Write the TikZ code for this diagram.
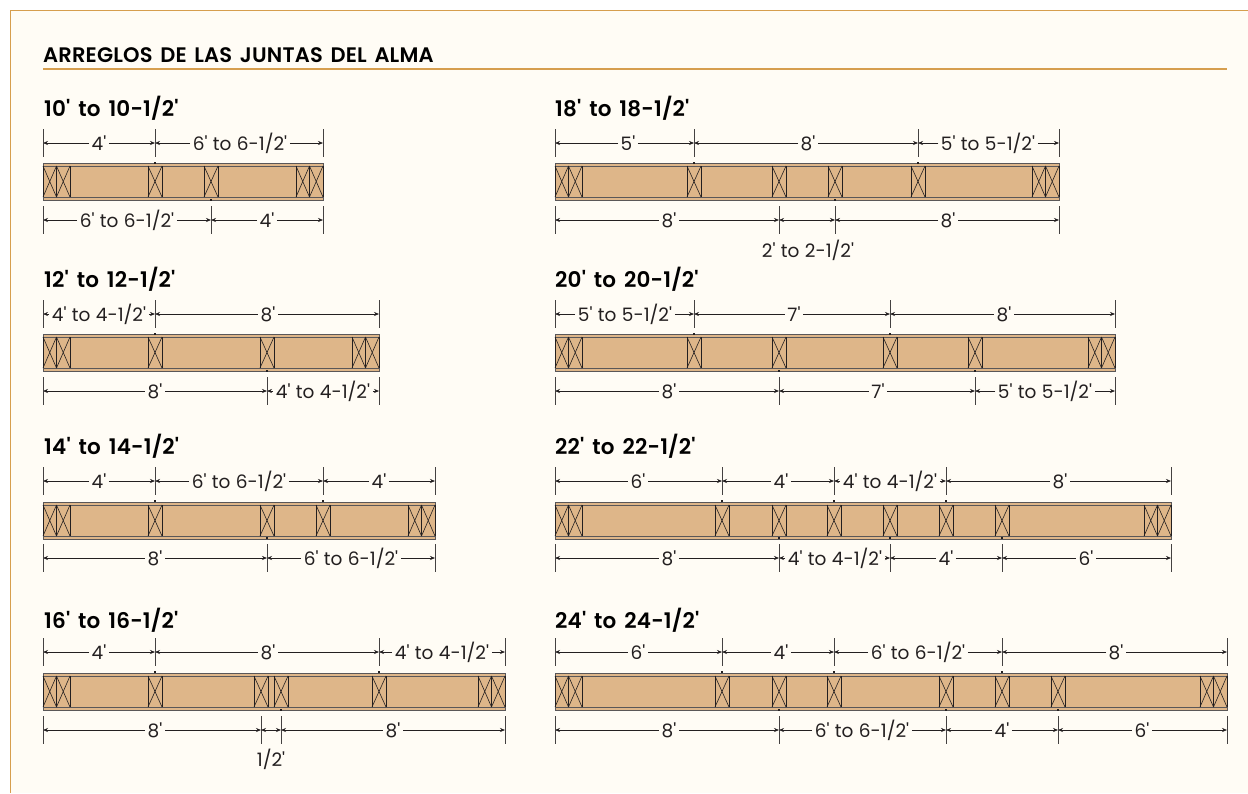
\documentclass[tikz,border=0pt]{standalone}
\usepackage{fontspec}
\setmainfont{Poppins}[Ligatures=TeXOff,WordSpace=1.1,BoldFont=Poppins SemiBold,BoldFeatures={WordSpace=1.5,LetterSpace=0.8}]
\usetikzlibrary{arrows.meta}
\definecolor{Paper}{RGB}{255,252,245}
\definecolor{Rule}{RGB}{214,158,78}
\definecolor{Wood}{RGB}{222,182,137}
\definecolor{Ink}{RGB}{35,31,32}
\def\Wall{7}
\def\Depth{37}
\def\DimGap{20}
\tikzset{
    chord/.style={draw=Ink!75,line width=0.9pt},
    stiffener/.style={draw=Ink,line width=0.9pt},
    brace/.style={draw=Ink,line width=0.6pt},
    dimline/.style={draw=Ink,line width=0.6pt,-{Stealth[length=5pt,width=4pt]}},
    dimtick/.style={draw=Ink!85,line width=0.6pt},
    dimlabel/.style={font=\fontsize{18.5}{20}\selectfont,text=Ink,inner sep=2.5pt},
    spanlabel/.style={font=\bfseries\fontsize{21.5}{22}\selectfont,text=black,anchor=west,inner sep=0pt},
}
% joist: left end, right end, top edge, inner stiffeners
\newcommand{\Joist}[4]{
    \fill[Wood] (#1,#3) rectangle (#2,#3+\Depth);
    \draw[chord] (#1,#3) rectangle (#2,#3+\Depth);
    \draw[chord,line width=0.6pt] (#1,#3+3) -- (#2,#3+3);
    \draw[chord,line width=0.6pt] (#1,#3+\Depth-3) -- (#2,#3+\Depth-3);
    \foreach \S in {#4} {
        \draw[stiffener] (\S-\Wall,#3+3) -- (\S-\Wall,#3+\Depth-3);
        \draw[stiffener] (\S+\Wall,#3+3) -- (\S+\Wall,#3+\Depth-3);
        \draw[brace] (\S-\Wall,#3+3) -- (\S+\Wall,#3+\Depth-3);
        \draw[brace] (\S+\Wall,#3+3) -- (\S-\Wall,#3+\Depth-3);
    }
    \foreach \S in {#1+6.75,#1+20.25,#2-20.25,#2-6.75} {
        \draw[stiffener] (\S-6.75,#3+3) -- (\S-6.75,#3+\Depth-3);
        \draw[stiffener] (\S+6.75,#3+3) -- (\S+6.75,#3+\Depth-3);
        \draw[brace] (\S-6.75,#3+3) -- (\S+6.75,#3+\Depth-3);
        \draw[brace] (\S+6.75,#3+3) -- (\S-6.75,#3+\Depth-3);
    }
}
% dimension row: height, side of the joist (1 above, -1 below), Start/End/LabelX/Text
\newcommand{\DimRow}[3]{
    \foreach \Xa/\Xb/\Lx/\Txt [count=\N] in {#3} {
        \coordinate (L#1-\Xa) at (\Xa,#1);
        \coordinate (R#1-\Xa) at (\Xb,#1);
        \node[dimlabel] (T#1-\Xa) at (\Lx,#1) {\Txt};
        \draw[dimline] (T#1-\Xa) -- (L#1-\Xa);
        \draw[dimline] (T#1-\Xa) -- (R#1-\Xa);
        \draw[dimtick] ([yshift=14pt]L#1-\Xa) -- ([yshift=-14pt]L#1-\Xa);
        \draw[dimtick] ([yshift=14pt]R#1-\Xa) -- ([yshift=-14pt]R#1-\Xa);
        \ifnum\N>1 \fill[Ink] (\Xa-1.2,#1+#2*\DimGap-1.2) rectangle (\Xa+1.2,#1+#2*\DimGap+1.2); \fi
    }
}
\begin{document}
\begin{tikzpicture}[x=1pt,y=-1pt]
    \path[use as bounding box] (0,0) rectangle (1248,793);
    \fill[Paper] (10.5,10.5) rectangle (1248,793);
    \draw[Rule,line width=1.2pt] (10.5,793) -- (10.5,10.5) -- (1248,10.5);
    \node[font=\bfseries\fontsize{21}{22}\selectfont,anchor=west,inner sep=0pt] (heading) at (43,55) {ARREGLOS DE LAS JUNTAS DEL ALMA};
    \coordinate (ruleL) at (43,69);
    \coordinate (ruleR) at (1227,69);
    \draw[Rule,line width=1.2pt] (ruleL) -- (ruleR);
    % left column
    \node[spanlabel] (s10) at (44,108) {10' to 10-1/2'};
    \Joist{43}{323}{163}{155,211}
    \DimRow{143}{1}{43/155/99/{4'},155/323/240/{6' to 6-1/2'}}
    \DimRow{220}{-1}{43/211/127/{6' to 6-1/2'},211/323/267/{4'}}
    \node[spanlabel] (s12) at (44,279) {12' to 12-1/2'};
    \Joist{43}{379}{334}{155,267}
    \DimRow{314}{1}{43/155/99/{4' to 4-1/2'},155/379/268/{8'}}
    \DimRow{391}{-1}{43/267/155/{8'},267/379/323/{4' to 4-1/2'}}
    \node[spanlabel] (s14) at (44,446) {14' to 14-1/2'};
    \Joist{43}{435}{502}{155,267,323}
    \DimRow{481}{1}{43/155/99/{4'},155/323/239/{6' to 6-1/2'},323/435/379/{4'}}
    \DimRow{558}{-1}{43/267/155/{8'},267/435/351/{6' to 6-1/2'}}
    \node[spanlabel] (s16) at (44,620) {16' to 16-1/2'};
    \Joist{43}{505}{673}{155,261,281,379}
    \DimRow{652}{1}{43/155/99/{4'},155/379/268/{8'},379/505/442/{4' to 4-1/2'}}
    \DimRow{730}{-1}{43/261/155/{8'},281/505/393/{8'}}
    \coordinate (gapA) at (261,730);
    \coordinate (gapB) at (281,730);
    \draw[dimline,{Stealth[length=5pt,width=4pt]}-{Stealth[length=5pt,width=4pt]}] (gapA) -- (gapB);
    \node[dimlabel] (gapT) at (271,759) {1/2'};
    % right column
    \node[spanlabel] (s18) at (555,108) {18' to 18-1/2'};
    \Joist{555}{1059}{163}{694,779,835,918}
    \DimRow{143}{1}{555/694/628/{5'},694/918/808/{8'},918/1059/988/{5' to 5-1/2'}}
    \DimRow{220}{-1}{555/779/669/{8'},835/1059/948/{8'}}
    \coordinate (midA) at (779,220);
    \coordinate (midB) at (835,220);
    \draw[dimline,{Stealth[length=5pt,width=4pt]}-{Stealth[length=5pt,width=4pt]}] (midA) -- (midB);
    \draw[dimtick] ([yshift=14pt]midA) -- ([yshift=-14pt]midA);
    \draw[dimtick] ([yshift=14pt]midB) -- ([yshift=-14pt]midB);
    \node[dimlabel] (midT) at (808,250) {2' to 2-1/2'};
    \node[spanlabel] (s20) at (555,279) {20' to 20-1/2'};
    \Joist{555}{1115}{334}{694,779,890,975}
    \DimRow{314}{1}{555/694/625/{5' to 5-1/2'},694/890/794/{7'},890/1115/1004/{8'}}
    \DimRow{391}{-1}{555/779/669/{8'},779/975/878/{7'},975/1115/1045/{5' to 5-1/2'}}
    \node[spanlabel] (s22) at (555,446) {22' to 22-1/2'};
    \Joist{555}{1171}{502}{722,779,834,890,946,1002}
    \DimRow{481}{1}{555/722/638/{6'},722/834/781/{4'},834/946/890/{4' to 4-1/2'},946/1171/1060/{8'}}
    \DimRow{558}{-1}{555/779/669/{8'},779/890/835/{4' to 4-1/2'},890/1002/946/{4'},1002/1171/1086/{6'}}
    \node[spanlabel] (s24) at (555,620) {24' to 24-1/2'};
    \Joist{555}{1227}{673}{722,779,834,946,1002,1058}
    \DimRow{652}{1}{555/722/638/{6'},722/834/781/{4'},834/1002/918/{6' to 6-1/2'},1002/1227/1116/{8'}}
    \DimRow{730}{-1}{555/779/669/{8'},779/946/862/{6' to 6-1/2'},946/1058/1002/{4'},1058/1227/1142/{6'}}
\end{tikzpicture}
\end{document}
